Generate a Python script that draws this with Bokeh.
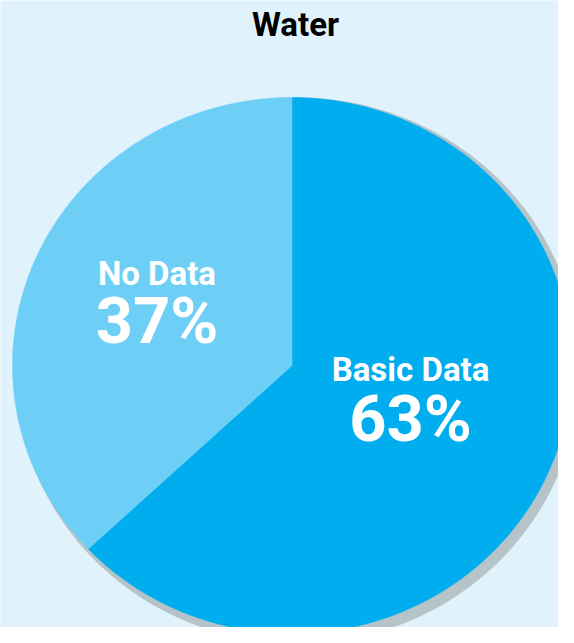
import numpy as np
from bokeh.plotting import figure
from bokeh.models import Range1d, ColumnDataSource
from bokeh.core.properties import value
from bokeh.embed import file_html
from bokeh.resources import INLINE

# ---- data ----
title_text = "Water"
categories = ["Basic Data", "No Data"]
values = [63, 37]
slice_colors = ["#00aeef", "#6dcff6"]

# ---- layout / style ----
BG = "#e0f2fc"
SHADOW = "#b6c4ca"
CX, CY, RX, RY = 291.5, 365.0, 279.5, 268.0
FONT = value("Roboto")

W, H = 558, 627
p = figure(width=W, height=H, output_backend="svg", toolbar_location=None,
           x_range=Range1d(0, W), y_range=Range1d(H, 0),
           min_border=0)
p.axis.visible = False
p.grid.visible = False
p.outline_line_color = None
p.background_fill_color = BG
p.border_fill_color = BG

# shadow (slightly larger, offset ellipse)
t = np.linspace(0, 2 * np.pi, 400)
p.patch(297 + 282 * np.sin(t), 370 - 273 * np.cos(t), fill_color=SHADOW, line_color=None)

# pie slices as elliptical wedges, clockwise from 12 o'clock
total = float(sum(values))
xs, ys = [], []
start = 0.0
for v in values:
    end = start + v / total * 2 * np.pi
    a = np.linspace(start, end, 300)
    xs.append(np.concatenate([[CX], CX + RX * np.sin(a)]).tolist())
    ys.append(np.concatenate([[CY], CY - RY * np.cos(a)]).tolist())
    start = end
src = ColumnDataSource(dict(xs=xs, ys=ys, color=slice_colors, cat=categories))
p.patches("xs", "ys", source=src, fill_color="color", line_color="color", line_width=0.5)

# title
p.text(x=[295], y=[24], text=[title_text], text_font=FONT, text_font_style="bold",
       text_font_size="33px", text_align="center", text_baseline="alphabetic",
       text_color="#000000")

# labels (name + percentage)
label_pos = {"Basic Data": (410, 369, 418), "No Data": (156.5, 273, 320)}
for cat, v in zip(categories, values):
    lx, ly1, ly2 = label_pos[cat]
    p.text(x=[lx], y=[ly1], text=[cat], text_font=FONT, text_font_style="bold",
           text_font_size="33px", text_align="center", text_baseline="alphabetic",
           text_color="white")
    p.text(x=[lx], y=[ly2], text=[f"{v}%"], text_font=FONT, text_font_style="bold",
           text_font_size="65px", text_align="center", text_baseline="alphabetic",
           text_color="white")

open("out.html", "w").write(file_html(p, INLINE))
